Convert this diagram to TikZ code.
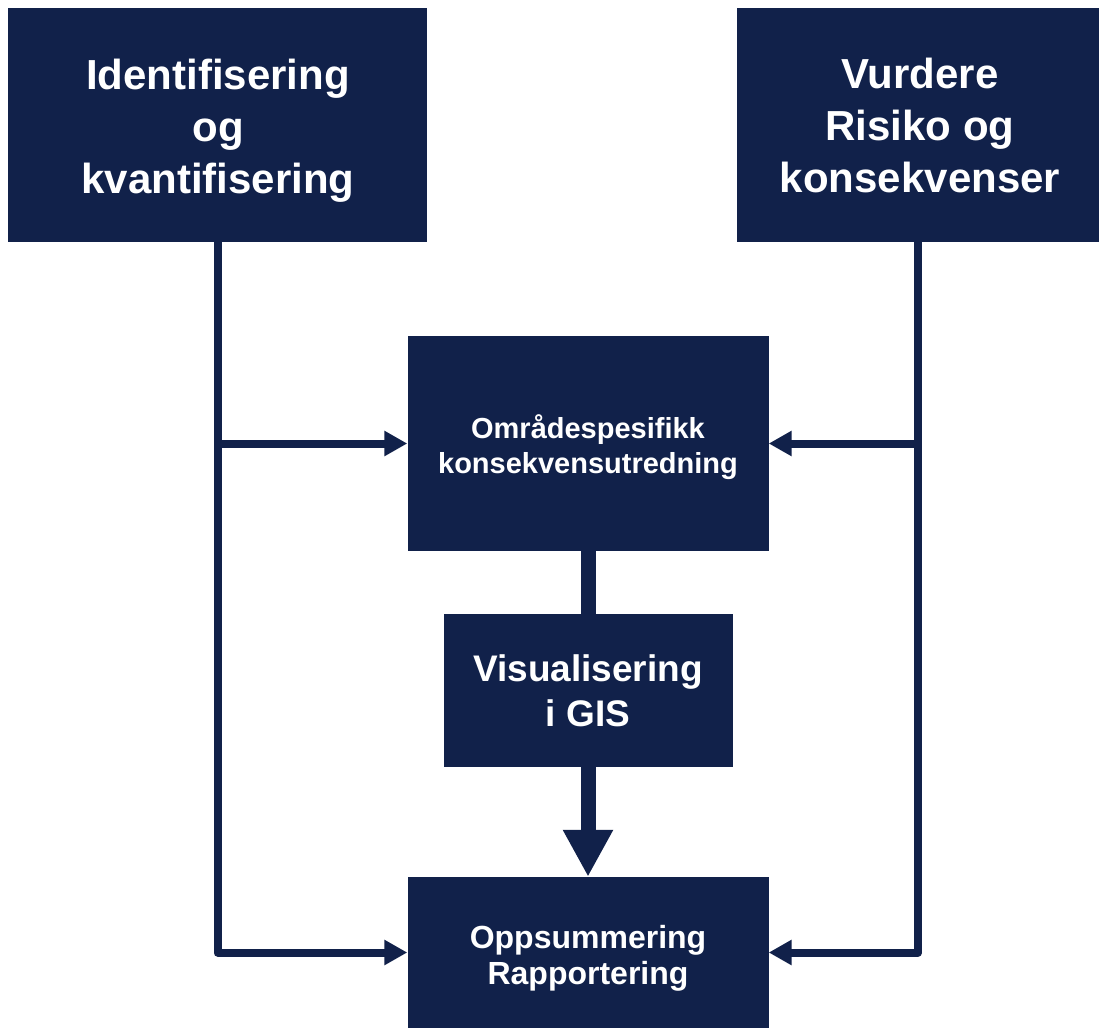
\documentclass[tikz,border=0pt]{standalone}
\usepackage{fontspec}
\setmainfont{Liberation Sans}
\usetikzlibrary{arrows.meta}
\definecolor{navy}{RGB}{17,33,74}
\begin{document}
\begin{tikzpicture}[x=1pt,y=-1pt,
  box/.style={fill=navy, inner sep=0pt},
  lbl/.style={text=white, align=center, inner sep=0pt},
  bigtext/.style={lbl, font=\bfseries\fontsize{42}{52}\selectfont},
  midtext/.style={lbl, font=\bfseries\fontsize{37}{45}\selectfont},
  smalltext/.style={lbl, font=\bfseries\fontsize{29}{35}\selectfont},
  lowtext/.style={lbl, font=\bfseries\fontsize{32}{36}\selectfont},
  conn/.style={draw=navy, line width=8pt, line join=round, -{Triangle[length=23pt,width=24pt]}},
  thick/.style={draw=navy, line width=15pt}
]
\useasboundingbox (0,0) rectangle (1099,1028);
\node[box, minimum width=419pt, minimum height=234pt] (A) at (217.5,125) {};
\node[box, minimum width=362pt, minimum height=234pt] (B) at (918,125) {};
\node[box, minimum width=361pt, minimum height=215pt] (C) at (588,443.5) {};
\node[box, minimum width=289pt, minimum height=153pt] (D) at (588,690.5) {};
\node[box, minimum width=361pt, minimum height=151pt] (E) at (588,952.5) {};

\node[bigtext] (At) at (218,131) {Identifisering\\og\\kvantifisering};
\node[bigtext] (Bt) at (920,125) {Vurdere\\Risiko og\\konsekvenser};
\node[smalltext] (Ct) at (588,447.5) {Områdespesifikk\\konsekvensutredning};
\node[midtext] (Dt) at (588,691) {Visualisering\\i GIS};
\node[lowtext] (Et) at (588,958.5) {Oppsummering\\Rapportering};

\draw[conn] (A.south) |- (E.west);
\draw[conn] (A.south |- C.west) -- (C.west);
\draw[conn] (B.south) |- (E.east);
\draw[conn] (B.south |- C.east) -- (C.east);
\draw[thick] (C.south) -- (D.north);
\draw[thick, -{Triangle[length=47pt,width=47pt]}] (D.south) -- (E.north);
\end{tikzpicture}
\end{document}
